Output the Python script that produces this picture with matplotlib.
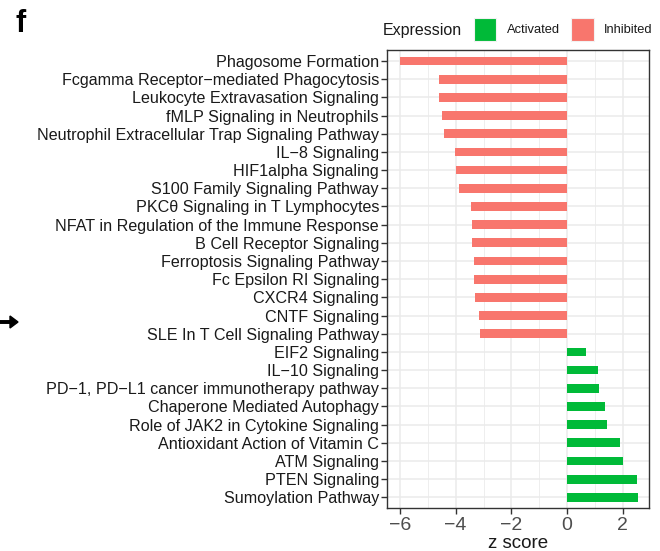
import matplotlib
matplotlib.use("Agg")
import matplotlib.pyplot as plt
from matplotlib.patches import Rectangle, FancyArrow
from matplotlib.ticker import MultipleLocator

plt.rcParams['font.family'] = ['Liberation Sans', 'DejaVu Sans']

pathways = [
    "Phagosome Formation",
    "Fcgamma Receptor\u2212mediated Phagocytosis",
    "Leukocyte Extravasation Signaling",
    "fMLP Signaling in Neutrophils",
    "Neutrophil Extracellular Trap Signaling Pathway",
    "IL\u22128 Signaling",
    "HIF1alpha Signaling",
    "S100 Family Signaling Pathway",
    "PKC\u03b8 Signaling in T Lymphocytes",
    "NFAT in Regulation of the Immune Response",
    "B Cell Receptor Signaling",
    "Ferroptosis Signaling Pathway",
    "Fc Epsilon RI Signaling",
    "CXCR4 Signaling",
    "CNTF Signaling",
    "SLE In T Cell Signaling Pathway",
    "EIF2 Signaling",
    "IL\u221210 Signaling",
    "PD\u22121, PD\u2212L1 cancer immunotherapy pathway",
    "Chaperone Mediated Autophagy",
    "Role of JAK2 in Cytokine Signaling",
    "Antioxidant Action of Vitamin C",
    "ATM Signaling",
    "PTEN Signaling",
    "Sumoylation Pathway",
]
z_scores = [
    -6.00, -4.60, -4.59, -4.48, -4.43, -4.04, -3.98, -3.87,
    -3.45, -3.42, -3.41, -3.36, -3.36, -3.30, -3.15, -3.12,
    0.69, 1.09, 1.16, 1.35, 1.42, 1.90, 2.01, 2.51, 2.53,
]
x_ticks = [-6, -4, -2, 0, 2]

col_act = "#00BA38"
col_inh = "#F8766D"
colors = [col_act if v > 0 else col_inh for v in z_scores]

fig = plt.figure(figsize=(6.6, 5.51), dpi=100)
ax = fig.add_axes([0.587, 0.0775, 0.396, 0.8315])

n = len(pathways)
ypos = list(range(n, 0, -1))
ax.barh(ypos, z_scores, height=0.48, color=colors, zorder=3)

ax.set_xlim(-6.45, 2.93)
ax.set_ylim(0.4, n + 0.6)
ax.set_yticks(ypos)
ax.set_yticklabels(pathways, fontsize=11.6, color="#1a1a1a")
ax.set_xticks(x_ticks)
ax.set_xticklabels([f"{t}".replace("-", "\u2212") for t in x_ticks],
                   fontsize=14, color="#4d4d4d")
ax.xaxis.set_minor_locator(MultipleLocator(1))
ax.tick_params(axis="both", which="major", direction="out", length=4,
               width=1, color="#333333", pad=2)
ax.tick_params(axis="x", which="minor", length=0)
ax.grid(True, which="major", axis="both", color="#ebebeb", lw=1.1, zorder=0)
ax.grid(True, which="minor", axis="x", color="#ebebeb", lw=0.6, zorder=0)
for s in ax.spines.values():
    s.set_color("#333333")
    s.set_linewidth(1)
ax.set_xlabel("z score", fontsize=13.5, color="#1a1a1a", labelpad=1)

# legend across the top
fig.text(383 / 660, 1 - 30 / 551, "Expression", fontsize=11.5,
         va="center", ha="left", color="#1a1a1a")
for x0, c, lab in [(473.5, col_act, "Activated"), (571, col_inh, "Inhibited")]:
    fig.patches.append(Rectangle((x0 / 660, 1 - 41 / 551), 23 / 660, 23 / 551,
                                 transform=fig.transFigure, facecolor=c,
                                 edgecolor="#f2f2f2", lw=0.8))
    fig.text((x0 + 33) / 660, 1 - 30 / 551, lab, fontsize=9.3,
             va="center", ha="left", color="#1a1a1a")

# panel letter and pointer arrow
fig.text(15 / 660, 1 - 32 / 551, "f", fontsize=22, ha="left", va="baseline",
         color="black", fontweight="bold")
fig.patches.append(FancyArrow(
    0, 1 - 322 / 551, 10 / 660, 0, width=2.5 / 551, head_width=12 / 551,
    head_length=8 / 660, length_includes_head=False,
    transform=fig.transFigure, color="black"))

fig.savefig("out.png", dpi=100)
